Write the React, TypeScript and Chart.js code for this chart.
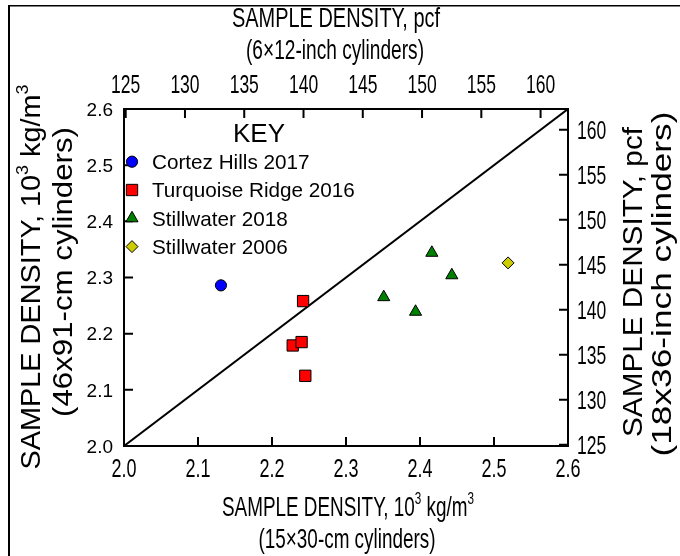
import React, { useEffect, useRef } from "react";
import { Chart, registerables } from "chart.js";
import { drawPoint } from "chart.js/helpers";

Chart.register(...registerables);

// 1 (10^3 kg/m^3) expressed in pounds per cubic foot
const KG_TO_PCF = 62.428;

// Sample density, 10^3 kg/m^3: x = 15x30-cm cylinders, y = 46x91-cm cylinders
const seriesNames = ["Cortez Hills 2017", "Turquoise Ridge 2016", "Stillwater 2018", "Stillwater 2006"];
const cortezX = [2.131];
const cortezY = [2.286];
const turquoiseX = [2.242, 2.228, 2.24, 2.245];
const turquoiseY = [2.258, 2.179, 2.185, 2.125];
const stillwater2018X = [2.351, 2.394, 2.416, 2.443];
const stillwater2018Y = [2.265, 2.239, 2.344, 2.304];
const stillwater2006X = [2.519];
const stillwater2006Y = [2.326];
const equalityX = [2.0, 2.6];
const equalityY = [2.0, 2.6];

// Axis ticks
const kgTicks = [2.0, 2.1, 2.2, 2.3, 2.4, 2.5, 2.6];
const pcfTicks = [125, 130, 135, 140, 145, 150, 155, 160];
const kgMin = 2.0;
const kgMax = 2.6;

const FONT = '"Liberation Sans", Arial, Helvetica, sans-serif';

type Seg = { t: string; sup?: boolean };
type Title = { segs: Seg[]; x: number; y: number; size: number; w: number; rot: number };

const densityKg: Seg[] = [{ t: "SAMPLE DENSITY, 10" }, { t: "3", sup: true }, { t: " kg/m" }, { t: "3", sup: true }];
const densityPcf: Seg[] = [{ t: "SAMPLE DENSITY, pcf" }];

const titles: Title[] = [
  { segs: densityPcf, x: 336, y: 17, size: 28, w: 208, rot: 0 },
  { segs: [{ t: "(6\u00d712-inch cylinders)" }], x: 335, y: 48.5, size: 28, w: 178, rot: 0 },
  { segs: densityKg, x: 348, y: 505.5, size: 28, w: 252, rot: 0 },
  { segs: [{ t: "(15\u00d730-cm cylinders)" }], x: 347, y: 538, size: 28, w: 177, rot: 0 },
  { segs: densityKg, x: 30, y: 277, size: 28, w: 385, rot: -Math.PI / 2 },
  { segs: [{ t: "(46x91-cm cylinders)" }], x: 62, y: 272, size: 28, w: 290, rot: -Math.PI / 2 },
  { segs: densityPcf, x: 632, y: 282, size: 28, w: 310, rot: -Math.PI / 2 },
  { segs: [{ t: "(18x36-inch cylinders)" }], x: 661, y: 284, size: 28, w: 345, rot: -Math.PI / 2 },
];

function runWidth(ctx: CanvasRenderingContext2D, segs: Seg[], size: number) {
  let w = 0;
  for (const s of segs) {
    ctx.font = `${s.sup ? size * 0.62 : size}px ${FONT}`;
    w += ctx.measureText(s.t).width;
  }
  return w;
}

// Draws a run of text centred (cap-height) on y, optionally squeezed to a width and rotated.
function drawRun(
  ctx: CanvasRenderingContext2D,
  segs: Seg[],
  x: number,
  y: number,
  size: number,
  opts: { w?: number; sx?: number; rot?: number; align?: "left" | "center" | "right" }
) {
  const W = runWidth(ctx, segs, size);
  const sx = opts.w ? opts.w / W : opts.sx ?? 1;
  const align = opts.align ?? "center";
  ctx.save();
  ctx.translate(x, y);
  if (opts.rot) ctx.rotate(opts.rot);
  ctx.scale(sx, 1);
  let cx = align === "center" ? -W / 2 : align === "right" ? -W : 0;
  const base = size * 0.358;
  ctx.textBaseline = "alphabetic";
  ctx.textAlign = "left";
  ctx.fillStyle = "#000";
  for (const s of segs) {
    const fs = s.sup ? size * 0.62 : size;
    ctx.font = `${fs}px ${FONT}`;
    ctx.fillText(s.t, cx, s.sup ? base - size * 0.42 : base);
    cx += ctx.measureText(s.t).width;
  }
  ctx.restore();
}

const TICK_LEN = 9;

const decorations = {
  id: "decorations",
  beforeDatasetsDraw(chart: any) {
    const { ctx, chartArea: a, scales } = chart;
    ctx.save();
    ctx.strokeStyle = "#000";
    ctx.lineWidth = 2;
    ctx.beginPath();
    for (const t of scales.x.ticks) {
      const p = scales.x.getPixelForValue(t.value);
      ctx.moveTo(p, a.bottom);
      ctx.lineTo(p, a.bottom - TICK_LEN);
    }
    for (const t of scales.y.ticks) {
      const p = scales.y.getPixelForValue(t.value);
      ctx.moveTo(a.left, p);
      ctx.lineTo(a.left + TICK_LEN, p);
    }
    for (const t of scales.x2.ticks) {
      const p = scales.x2.getPixelForValue(t.value);
      ctx.moveTo(p, a.top);
      ctx.lineTo(p, a.top + TICK_LEN);
    }
    for (const t of scales.y2.ticks) {
      const p = scales.y2.getPixelForValue(t.value);
      ctx.moveTo(a.right, p);
      ctx.lineTo(a.right - TICK_LEN, p);
    }
    ctx.stroke();
    ctx.restore();
  },
  afterDraw(chart: any) {
    const { ctx, chartArea: a, scales } = chart;
    ctx.save();

    // tick labels
    for (const t of scales.x.ticks) {
      const p = scales.x.getPixelForValue(t.value);
      drawRun(ctx, [{ t: t.value.toFixed(1) }], p, 468, 25, { sx: 0.72 });
    }
    for (const t of scales.y.ticks) {
      const p = scales.y.getPixelForValue(t.value);
      drawRun(ctx, [{ t: t.value.toFixed(1) }], a.left - 11, p, 19, { align: "right" });
    }
    for (const t of scales.x2.ticks) {
      const p = scales.x2.getPixelForValue(t.value);
      drawRun(ctx, [{ t: String(t.value) }], p, 84, 25, { sx: 0.7 });
    }
    for (const t of scales.y2.ticks) {
      const p = scales.y2.getPixelForValue(t.value);
      drawRun(ctx, [{ t: String(t.value) }], a.right + 9, p, 25, { sx: 0.7, align: "left" });
    }

    // axis titles
    for (const tt of titles) {
      drawRun(ctx, tt.segs, tt.x, tt.y, tt.size, { w: tt.w, rot: tt.rot });
    }

    // key
    drawRun(ctx, [{ t: "KEY" }], 259, 133, 26, {});
    const sets = chart.data.datasets.slice(0, seriesNames.length);
    sets.forEach((ds: any, i: number) => {
      const y = 161.7 + i * 28.3;
      ctx.save();
      ctx.fillStyle = ds.backgroundColor;
      ctx.strokeStyle = ds.borderColor;
      ctx.lineWidth = ds.borderWidth;
      drawPoint(ctx, { pointStyle: ds.pointStyle, radius: ds.pointRadius, borderWidth: ds.borderWidth, rotation: 0 }, 132, y);
      ctx.restore();
      drawRun(ctx, [{ t: ds.label }], 152, y, 20.7, { align: "left" });
    });

    // outer frame
    ctx.fillStyle = "#000";
    ctx.fillRect(8, 5, 2, 551);
    ctx.fillRect(8, 5, 672, 1.5);
    ctx.restore();
  },
};

function pts(xs: number[], ys: number[]) {
  return xs.map((x, i) => ({ x, y: ys[i] }));
}

export default function App() {
  const ref = useRef<HTMLCanvasElement | null>(null);

  useEffect(() => {
    if (!ref.current) return;
    const fixedTicks = (vals: number[]) => (s: any) => {
      s.ticks = vals.map((v) => ({ value: v }));
    };
    const hiddenAxis = (pos: string, size: number, min: number, max: number, vals: number[]) => ({
      type: "linear",
      position: pos,
      min,
      max,
      grid: { display: false, drawTicks: false },
      border: { display: true, color: "#000", width: 2 },
      ticks: { display: false },
      afterBuildTicks: fixedTicks(vals),
      afterFit: (s: any) => {
        if (pos === "left" || pos === "right") s.width = size;
        else s.height = size;
      },
    });

    const chart = new Chart(ref.current, {
      type: "scatter",
      data: {
        datasets: [
          {
            label: seriesNames[0],
            data: pts(cortezX, cortezY),
            pointStyle: "circle",
            pointRadius: 5.6,
            backgroundColor: "#0000ff",
            borderColor: "#000",
            borderWidth: 1,
          },
          {
            label: seriesNames[1],
            data: pts(turquoiseX, turquoiseY),
            pointStyle: "rect",
            pointRadius: 8,
            backgroundColor: "#ff0000",
            borderColor: "#000",
            borderWidth: 1,
          },
          {
            label: seriesNames[2],
            data: pts(stillwater2018X, stillwater2018Y),
            pointStyle: "triangle",
            pointRadius: 7,
            backgroundColor: "#008000",
            borderColor: "#000",
            borderWidth: 1,
          },
          {
            label: seriesNames[3],
            data: pts(stillwater2006X, stillwater2006Y),
            pointStyle: "rectRot",
            pointRadius: 6,
            backgroundColor: "#cccc00",
            borderColor: "#000",
            borderWidth: 1,
          },
          {
            label: "equality",
            data: pts(equalityX, equalityY),
            showLine: true,
            pointRadius: 0,
            borderColor: "#000",
            borderWidth: 2,
            backgroundColor: "#000",
          },
        ] as any,
      },
      options: {
        animation: false,
        responsive: false,
        devicePixelRatio: 1,
        layout: { padding: 0, autoPadding: false },
        plugins: { legend: { display: false }, tooltip: { enabled: false }, title: { display: false } },
        events: [],
        scales: {
          x: hiddenAxis("bottom", 110, kgMin, kgMax, kgTicks),
          y: hiddenAxis("left", 124, kgMin, kgMax, kgTicks),
          x2: hiddenAxis("top", 109, kgMin * KG_TO_PCF, kgMax * KG_TO_PCF, pcfTicks),
          y2: hiddenAxis("right", 112, kgMin * KG_TO_PCF, kgMax * KG_TO_PCF, pcfTicks),
        } as any,
      },
      plugins: [decorations],
    });
    return () => chart.destroy();
  }, []);

  return (
    <div style={{ position: "absolute", left: 0, top: 0, width: 680, height: 556, background: "#fff" }}>
      <canvas ref={ref} width={680} height={556} style={{ display: "block", width: 680, height: 556 }} />
    </div>
  );
}
